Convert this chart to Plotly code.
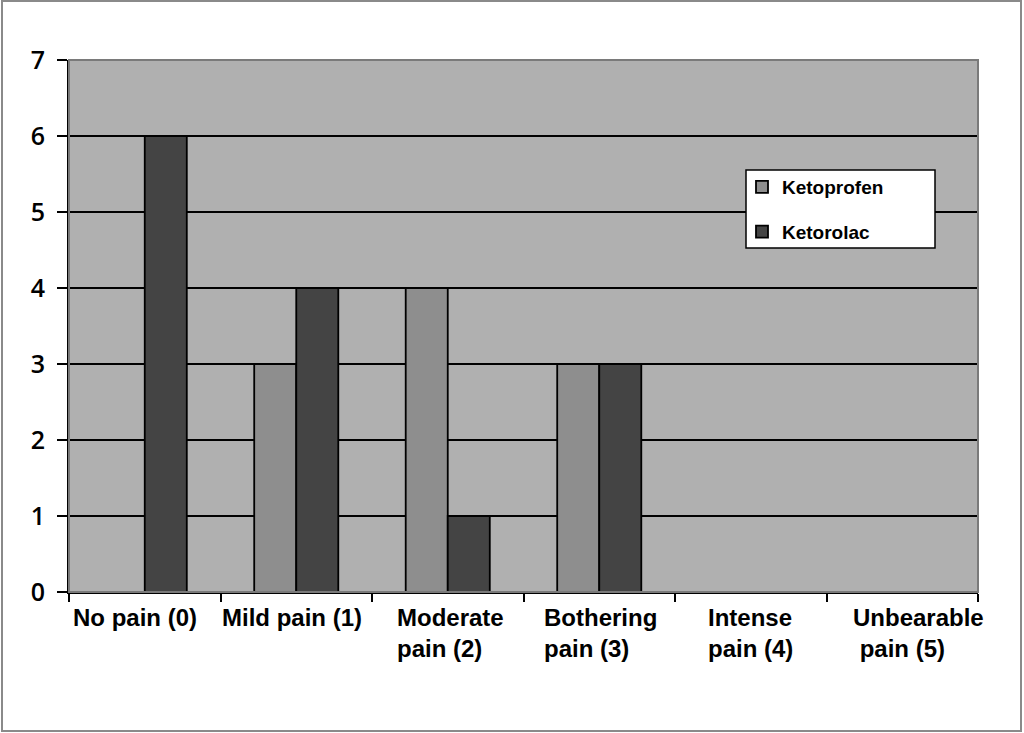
import plotly.graph_objects as go

categories = ["No pain (0)", "Mild pain (1)", "Moderate pain (2)",
              "Bothering pain (3)", "Intense pain (4)", "Unbearable pain (5)"]
tick_labels = ["No pain (0)", "Mild pain (1)", "Moderate<br>pain (2)",
               "Bothering<br>pain (3)", "Intense<br>pain (4)", "Unbearable<br> pain (5)"]
ketoprofen = [0, 3, 4, 3, 0, 0]
ketorolac = [6, 4, 1, 3, 0, 0]

# small horizontal nudges of the category labels (styling only)
label_shift = [-10, -4, 3, 1, 0, 16]

L, R, T, B = 69, 46, 60, 141
W, H = 1024, 733
pw, ph = W - L - R, H - T - B

def fx(px):
    return (px - L) / pw

def fy(py):
    return (H - B - py) / ph

fig = go.Figure()
fig.add_trace(go.Bar(name="Ketoprofen", x=categories, y=ketoprofen, legendgroup="a",
                     marker=dict(color="#8e8e8e", line=dict(color="#000000", width=1.8))))
fig.add_trace(go.Bar(name="Ketorolac", x=categories, y=ketorolac, legendgroup="b",
                     marker=dict(color="#444444", line=dict(color="#000000", width=1.8))))

annotations = []
for c, t, s in zip(categories, tick_labels, label_shift):
    annotations.append(dict(x=c, xref="x", y=fy(602), yref="paper", text=t, xshift=s,
                            showarrow=False, xanchor="center", yanchor="top", align="left",
                            font=dict(family="Liberation Sans, Arial", size=24,
                                      color="#000000", weight="bold")))

fig.update_layout(
    width=W, height=H,
    margin=dict(l=L, r=R, t=T, b=B),
    paper_bgcolor="#ffffff",
    plot_bgcolor="#b0b0b0",
    barmode="group",
    bargap=0.445,
    bargroupgap=0,
    showlegend=True,
    legend=dict(x=fx(742), y=fy(168), xanchor="left", yanchor="top",
                bgcolor="rgba(0,0,0,0)", borderwidth=0,
                font=dict(family="Liberation Sans, Arial", size=19, color="#000000",
                          weight="bold"),
                itemwidth=30, tracegroupgap=17),
    annotations=annotations,
    shapes=[
        dict(type="rect", xref="paper", yref="paper", x0=fx(2), x1=fx(1021), y0=fy(731), y1=fy(1),
             line=dict(color="#8a8a8a", width=2), layer="below"),
        dict(type="rect", xref="paper", yref="paper", x0=0, x1=1, y0=0, y1=1,
             line=dict(color="#7a7a7a", width=2), layer="above"),
        dict(type="rect", xref="paper", yref="paper", x0=fx(746), x1=fx(935), y0=fy(248), y1=fy(170),
             fillcolor="#ffffff", line=dict(color="#000000", width=1.5), layer="above"),
    ],
    font=dict(family="Liberation Sans, Arial", color="#000000"),
)

fig.update_xaxes(type="category", tickson="boundaries", ticks="outside", ticklen=8,
                 tickcolor="#000000", tickwidth=2, showticklabels=False,
                 showline=True, linecolor="#000000", linewidth=2, showgrid=False,
                 range=[-0.5, 5.5])
fig.update_yaxes(range=[0, 7], dtick=1, ticks="outside", ticklen=10, tickcolor="#000000",
                 tickwidth=2, showline=True, linecolor="#000000", linewidth=2,
                 showgrid=True, gridcolor="#000000", gridwidth=2,
                 zeroline=False, ticklabelstandoff=7,
                 tickfont=dict(family="Open Sans, DejaVu Sans", size=25, color="#000000",
                               weight=600))

fig.write_html("out.html", config={"displayModeBar": False},
               post_script="document.body.style.margin='0';document.body.style.overflow='hidden';")
